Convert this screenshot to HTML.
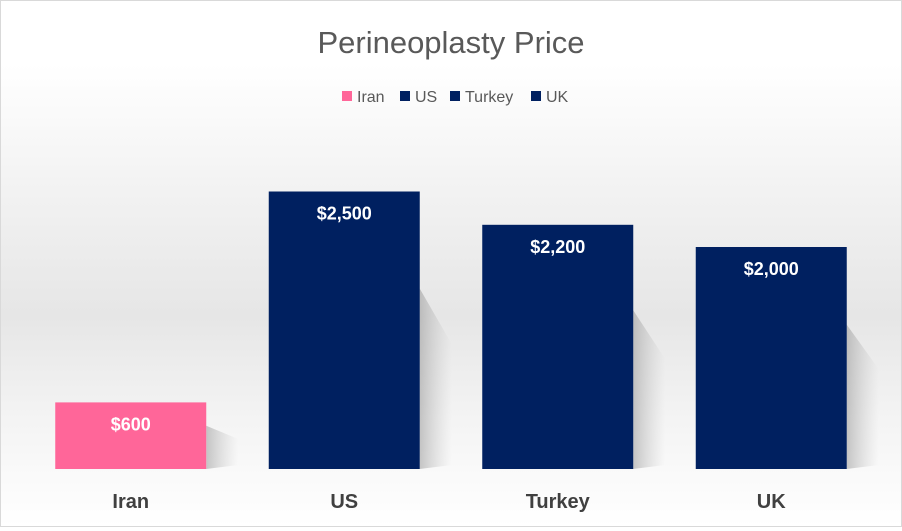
<!DOCTYPE html>
<html><head><meta charset="utf-8"><style>
html,body{margin:0;padding:0;}
body{width:902px;height:527px;overflow:hidden;font-family:"Liberation Sans",sans-serif;}
#chart{position:relative;width:900px;height:525px;border:1px solid #d9d9d9;
background:linear-gradient(to bottom,#ffffff 0%,#ffffff 12%,#f0f0f0 40%,#e6e6e6 60%,#f4f4f4 80%,#ffffff 100%);}
</style></head><body>
<div id="chart">
<svg id="svg" width="900" height="525" xmlns="http://www.w3.org/2000/svg">
<defs>
<linearGradient id="sh" x1="0" y1="0" x2="1" y2="0">
<stop offset="0" stop-color="#999" stop-opacity="0.55"/><stop offset="1" stop-color="#bbb" stop-opacity="0"/>
</linearGradient>
</defs>
<text x="450" y="52" text-anchor="middle" font-size="31" fill="#595959">Perineoplasty Price</text>
<g id="legend"></g>
<g id="shadows"></g>
<g id="bars"></g>
<g id="labels"></g>
<g id="xaxis"></g>
</svg>
</div>
<script>
const categories=["Iran","US","Turkey","UK"];
const values=[600,2500,2200,2000];
const valueLabels=["$600","$2,500","$2,200","$2,000"];
const colors=["#FF6699","#002060","#002060","#002060"];
const NS="http://www.w3.org/2000/svg";
const baseY=468, plotL=23, catW=213.5, barW=151, perUnit=0.111;
function xC(i){return plotL+catW*(i+0.5);}
function yV(v){return baseY-v*perUnit;}
function mk(t,a,p){const e=document.createElementNS(NS,t);for(const k in a)e.setAttribute(k,a[k]);p.appendChild(e);return e;}
const bars=document.getElementById('bars'),labels=document.getElementById('labels'),xa=document.getElementById('xaxis'),sh=document.getElementById('shadows'),lg=document.getElementById('legend');
categories.forEach((c,i)=>{
  const x=xC(i)-barW/2, y=yV(values[i]), h=baseY-y;
  const s=mk('polygon',{points:`${x+barW},${baseY} ${x+barW},${y+h*0.35} ${x+barW+32},${y+h*0.55} ${x+barW+32},${baseY-4}`,fill:'url(#sh)'},sh);
  
  
  const r=mk('rect',{x:x,y:y,width:barW,height:h,fill:colors[i]},bars);
  
  
  const t=mk('text',{x:xC(i),y:y+28,'text-anchor':'middle','font-size':'18','font-weight':'bold',fill:'#fff'},labels);
  t.textContent=valueLabels[i];
  
  
  const a=mk('text',{x:xC(i),y:507,'text-anchor':'middle','font-size':'20','font-weight':'bold',fill:'#404040'},xa);
  a.textContent=c;
  
  
});
const legX=[341,399,449,530];
categories.forEach((c,i)=>{
  const sq=mk('rect',{x:legX[i],y:90,width:10,height:10,fill:colors[i]},lg);
  
  
  const t=mk('text',{x:legX[i]+15,y:101,'font-size':'16',fill:'#595959'},lg);
  t.textContent=c;
  
  
});
</script>
</body></html>
